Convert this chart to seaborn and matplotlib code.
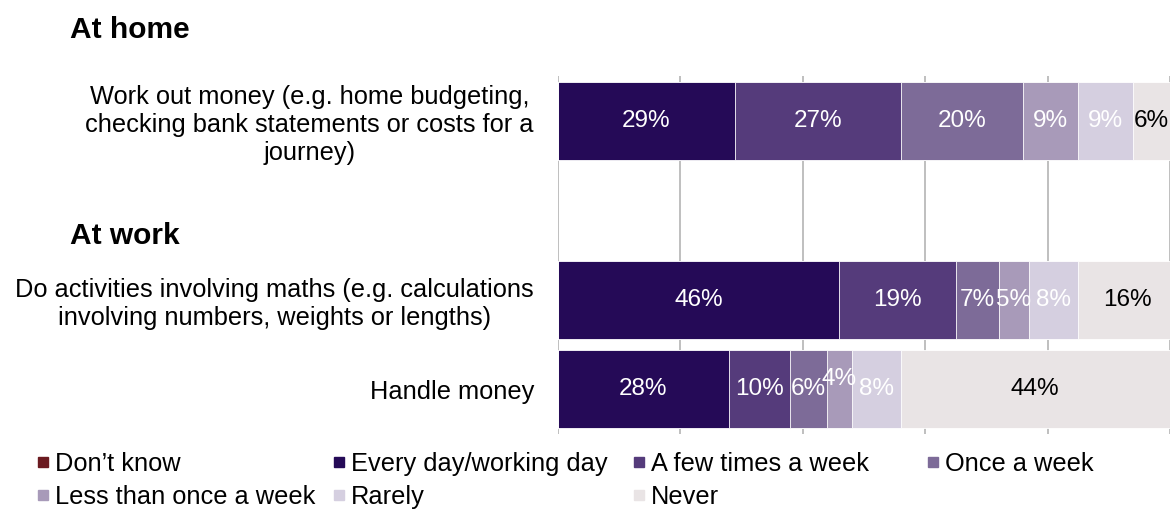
import matplotlib
matplotlib.use("Agg")
import matplotlib.pyplot as plt
from matplotlib.lines import Line2D
import numpy as np
import pandas as pd
import seaborn as sns

# ---- data -------------------------------------------------------------
activities = [
    "Work out money (e.g. home budgeting,\nchecking bank statements or costs for a\njourney)",
    "",  # spacer row under the "At work" heading
    "Do activities involving maths (e.g. calculations\ninvolving numbers, weights or lengths)",
    "Handle money",
]
responses = ["Don\u2019t know", "Every day/working day", "A few times a week",
             "Once a week", "Less than once a week", "Rarely", "Never"]

dont_know   = [0, 0, 0]
every_day   = [29, 46, 28]
few_times   = [27, 19, 10]
once_week   = [20, 7, 6]
less_once   = [9, 5, 4]
rarely      = [9, 8, 8]
never       = [6, 16, 44]

colors = ["#6B1A20", "#250A57", "#553B7B", "#7D6B98", "#A89AB9", "#D5CFE0", "#E9E4E5"]
label_colors = ["white", "white", "white", "white", "white", "white", "black"]

rows = [activities[0], activities[2], activities[3]]
series = [dont_know, every_day, few_times, once_week, less_once, rarely, never]

# long-form table with cumulative right edges for the stacked bars
records = []
for r_i, row in enumerate(rows):
    cum = 0
    for s_i, resp in enumerate(responses):
        v = series[s_i][r_i]
        records.append({"activity": row, "response": resp, "value": v,
                        "left": cum, "right": cum + v})
        cum += v
df = pd.DataFrame(records)

# ---- figure -----------------------------------------------------------
sns.set_theme(style="white")
plt.rcParams["font.family"] = ["Liberation Sans", "DejaVu Sans"]
plt.rcParams["text.color"] = "black"
plt.rcParams["ytick.color"] = "black"

fig = plt.figure(figsize=(11.71, 5.09), dpi=100)
ax = fig.add_axes([0.4761, 0.1473, 0.5231, 0.7033])

# draw cumulative totals from the last response backwards so each overlays the next
for resp, col in reversed(list(zip(responses, colors))):
    sub = df[df["response"] == resp]
    sns.barplot(data=sub, x="right", y="activity", order=activities,
                color=col, saturation=1, width=0.87, orient="h",
                edgecolor="white", linewidth=0.6, ax=ax, zorder=2)

# segment value labels
pos = {a: i for i, a in enumerate(activities)}
for _, r in df.iterrows():
    if r["value"] <= 0:
        continue
    cx = (r["left"] + r["right"]) / 2
    cy = pos[r["activity"]]
    if r["activity"] == "Handle money" and r["response"] == "Less than once a week":
        cy -= 0.11
    tc = label_colors[responses.index(r["response"])]
    ax.text(cx, cy, f"{int(r['value'])}%", ha="center", va="center",
            color=tc, fontsize=17.5, zorder=5)

ax.set_xlim(0, 100)
ax.set_ylim(3.5, -0.5)
ax.set_xticks(np.arange(0, 101, 20))
ax.set_xticklabels([])
ax.xaxis.grid(True, color="#ADADAD", linewidth=1.1, zorder=0)
ax.set_axisbelow(True)
ax.tick_params(axis="x", length=0)
ax.tick_params(axis="y", length=0, pad=17)
for lab in ax.get_yticklabels():
    lab.set_fontsize(18.3)
    lab.set_multialignment("center")
    lab.set_color("black")
ax.set_xlabel("")
ax.set_ylabel("")
for s in ["top", "right", "left", "bottom"]:
    ax.spines[s].set_visible(False)

# group headings
fig.text(70 / 1171, 1 - 30 / 509, "At home", fontsize=21.5, fontweight="bold",
         ha="left", va="center", color="black")
fig.text(70 / 1171, 1 - 236 / 509, "At work", fontsize=21.5, fontweight="bold",
         ha="left", va="center", color="black")

# legend laid out on a fixed grid
legend_slots = [
    (37, 464), (333, 464), (633, 464), (927, 464),
    (37, 497), (333, 497), (633, 497),
]
for (x, y), resp, col in zip(legend_slots, responses, colors):
    h = Line2D([], [], marker="s", linestyle="none", markersize=7.4,
               markerfacecolor=col, markeredgecolor=col)
    fig.legend(handles=[h], labels=[resp], loc="center left",
               bbox_to_anchor=(x / 1171, 1 - y / 509), frameon=False,
               fontsize=18.3, handlelength=0.45, handletextpad=0.25,
               borderpad=0, borderaxespad=0, labelcolor="black")

fig.savefig("out.png", dpi=100, facecolor="white")
